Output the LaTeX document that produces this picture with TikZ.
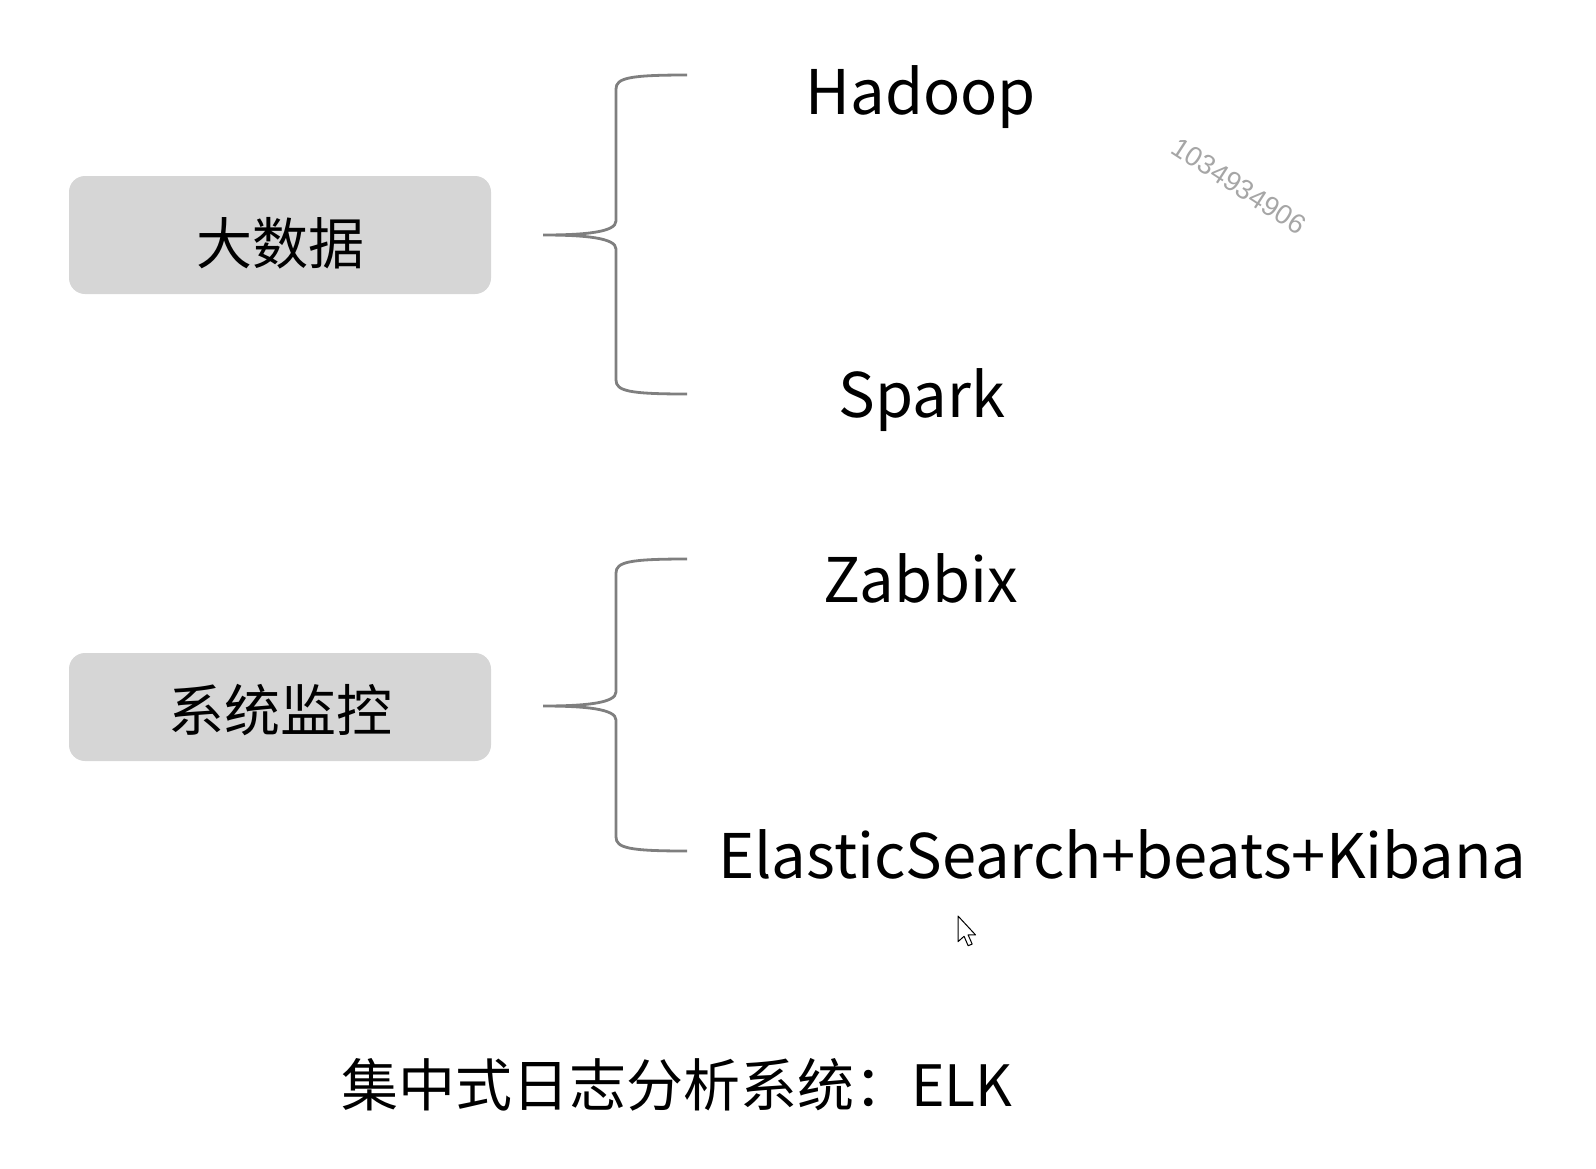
\documentclass[tikz,border=0pt]{standalone}
\usepackage{fontspec}
\setmainfont{Noto Sans CJK SC}
\newfontfamily\markfont{Liberation Sans}
\usepackage{tikz}
\usetikzlibrary{calc}

\tikzset{
    topic/.style={fill=boxgray, rounded corners=16pt, minimum width=422pt, minimum height=#1, inner sep=0pt},
    topictext/.style={inner sep=0pt, font=\fontsize{56}{60}\selectfont},
    item/.style={inner sep=0pt, anchor=base, font=\fontsize{61.5}{66}\selectfont},
    brace/.style={draw=bracegray, line width=2.8pt}
}
\definecolor{boxgray}{HTML}{D6D6D6}
\definecolor{bracegray}{HTML}{7F7F7F}

\begin{document}
\begin{tikzpicture}[x=1pt, y=-1pt]
    \useasboundingbox (0,0) rectangle (1596,1168);
    % left boxes
    \node[topic=118pt, label={[topictext, yshift=-8pt]center:大数据}] (big) at (280,235) {};
    \node[topic=108pt, label={[topictext, yshift=-3pt]center:系统监控}] (mon) at (280,707) {};
    % right items
    \node[item] (hadoop) at (921,114) {Hadoop};
    \node[item] (spark) at (922,417) {Spark};
    \node[item] (zabbix) at (921,602) {Zabbix};
    \node[item, anchor=base west] (elk) at (718,878) {ElasticSearch+beats+Kibana};
    % braces
    \foreach \b/\t/\top/\bot in {big/235/75/394, mon/706/559/851} {
        \coordinate (tip-\b) at (543,\t);
        \draw[brace] (687,\top) .. controls (629,\top) and (616,\top+3) .. (616,\top+14)
            -- (616,\t-14) .. controls (616,\t-3) and (586,\t) .. (tip-\b)
            .. controls (586,\t) and (616,\t+3) .. (616,\t+14)
            -- (616,\bot-14) .. controls (616,\bot-3) and (629,\bot) .. (687,\bot);
    }
    % bottom line
    \node[inner sep=0pt, anchor=west, font=\fontsize{57}{61}\selectfont] (elkline) at (341,1085) {集中式日志分析系统：ELK};
    % watermark
    \node[text=gray!70, rotate=-33, font=\markfont\fontsize{27.5}{30}\selectfont] (mark) at (1239,186) {1034934906};
    % mouse pointer
    \draw[fill=white, line width=1pt, line join=round, shift={(958,916)}, scale=1.35]
        (0,0) -- (0,19) -- (4.5,15) -- (7.5,22) -- (10.5,20.8) -- (7.5,14) -- (13,14) -- cycle;
\end{tikzpicture}
\end{document}
